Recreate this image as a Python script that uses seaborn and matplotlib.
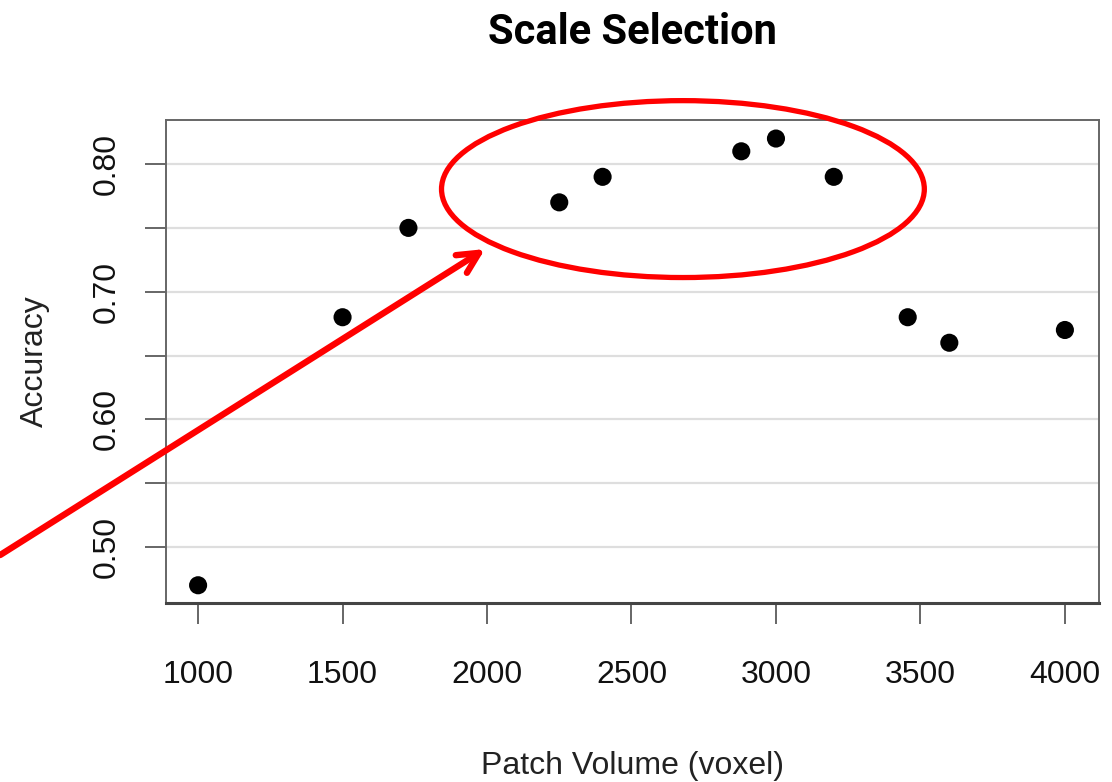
import matplotlib
matplotlib.use("Agg")
import matplotlib.pyplot as plt
import seaborn as sns
import pandas as pd
from matplotlib.patches import Ellipse, FancyArrowPatch

# patch volume (voxel) vs accuracy
patch_volume = [1000, 1500, 1728, 2250, 2400, 2880, 3000, 3200, 3456, 3600, 4000]
accuracy = [0.47, 0.68, 0.75, 0.77, 0.79, 0.81, 0.82, 0.79, 0.68, 0.66, 0.67]
x_ticks = [1000, 1500, 2000, 2500, 3000, 3500, 4000]
y_ticks = [0.50, 0.60, 0.70, 0.80]
y_minor = [0.55, 0.65, 0.75]

df = pd.DataFrame({"Patch Volume (voxel)": patch_volume, "Accuracy": accuracy})

sns.set_style("white")
plt.rcParams["font.family"] = ["Liberation Sans", "DejaVu Sans"]

fig = plt.figure(figsize=(11.12, 7.82), dpi=100)
ax = fig.add_axes([0.1493, 0.2289, 0.8390, 0.6176])

sns.scatterplot(data=df, x="Patch Volume (voxel)", y="Accuracy", ax=ax,
                color="black", s=170, edgecolor="none", zorder=3)

ax.set_xlim(889, 4118)
ax.set_ylim(0.4561, 0.8345)
ax.set_xticks(x_ticks)
ax.set_yticks(y_ticks)
ax.set_yticks(y_minor, minor=True)
ax.set_xticklabels([str(v) for v in x_ticks])
ax.set_yticklabels(["%.2f" % v for v in y_ticks], rotation=90, va="center")

ax.grid(axis="y", which="both", color="#dedede", linewidth=1.6, zorder=0)
ax.set_axisbelow(True)
for sp in ax.spines.values():
    sp.set_color("#666666")
    sp.set_linewidth(1.4)
ax.spines["bottom"].set_color("#444444")
ax.spines["bottom"].set_linewidth(2.2)

ax.tick_params(axis="both", which="both", direction="out", length=15, width=1.4,
               color="#666666", labelsize=23, labelcolor="#111111",
               bottom=True, left=True)
ax.tick_params(axis="x", pad=26)
ax.tick_params(axis="y", pad=17)

ax.set_xlabel("Patch Volume (voxel)", fontsize=23, color="#222222", labelpad=44)
ax.set_ylabel("Accuracy", fontsize=23, color="#222222", labelpad=30)
ax.set_title("Scale Selection", fontsize=30, fontweight="bold", color="black",
             family=["Roboto", "DejaVu Sans"], pad=55)

# red highlight annotations
ell = Ellipse((2678, 0.7804), 1671, 0.1386, fill=False, edgecolor="#ff0000",
              linewidth=3.8, clip_on=False, zorder=5)
ax.add_patch(ell)
arr = FancyArrowPatch((315, 0.4937), (1993, 0.7334),
                      arrowstyle="->,head_length=0.6,head_width=0.3",
                      mutation_scale=25, color="#ff0000", linewidth=4.6,
                      clip_on=False, zorder=5, shrinkA=0, shrinkB=0,
                      capstyle="round")
ax.add_patch(arr)

plt.savefig("out.png", dpi=100)
